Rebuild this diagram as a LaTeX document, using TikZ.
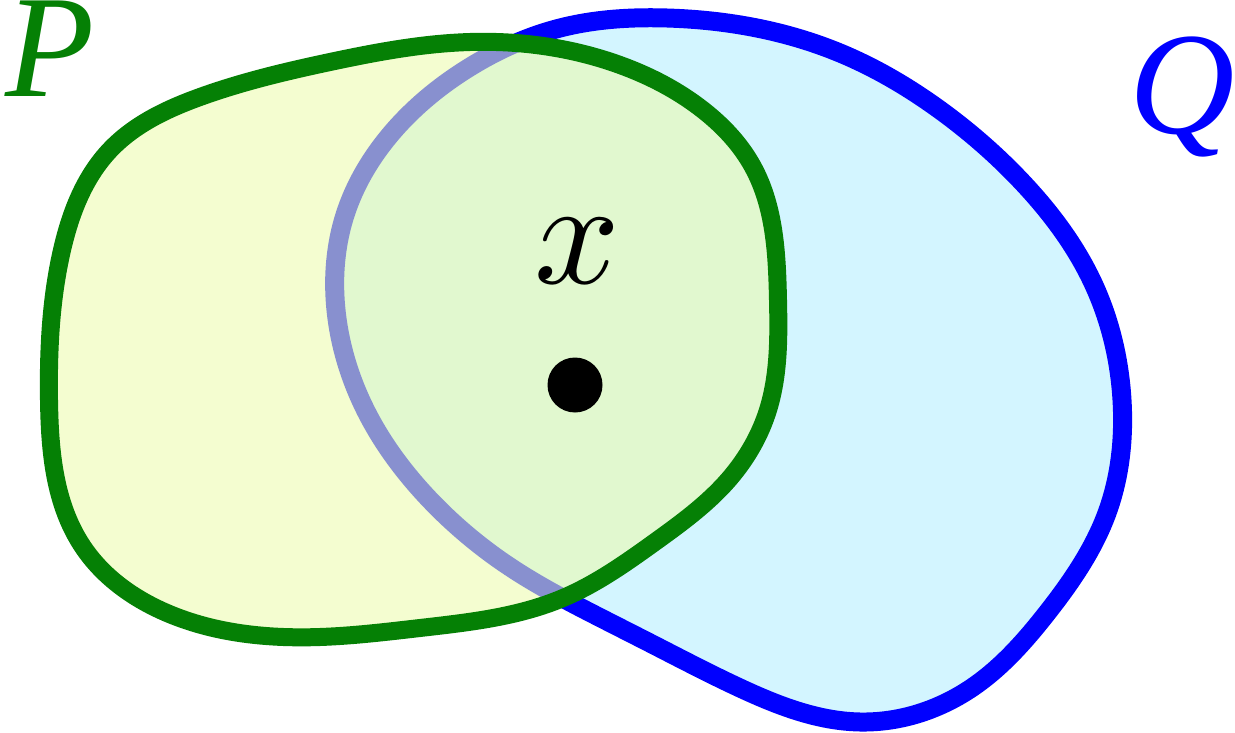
\documentclass[tikz,border=0pt]{standalone}
\usepackage{graphicx}
\usepackage{fontspec}
\newfontfamily\labfont{Liberation Serif}
\usetikzlibrary{hobby}
\definecolor{qfill}{RGB}{211,245,255}
\definecolor{qdraw}{RGB}{0,0,255}
\definecolor{pdraw}{RGB}{5,128,5}
\definecolor{pfill}{RGB}{236,251,173}
\tikzset{
  qset/.style={fill=qfill,draw=qdraw,line width=19pt,use Hobby shortcut,closed=true},
  pset/.style={fill=pfill,fill opacity=0.575,draw=pdraw,draw opacity=1,line width=18pt,use Hobby shortcut,closed=true},
  lab/.style={inner sep=0pt,font=\labfont\itshape\fontsize{146}{146}\selectfont}
}
\begin{document}
\begin{tikzpicture}[x=1pt,y=-1pt]
\useasboundingbox (0,0) rectangle (1235,733);
% Q
\draw[qset] (667,18) .. (840,53) .. (940,110) .. (1023,183) .. (1093,283) .. (1122,400) .. (1107,513)
 .. (1047,613) .. (973,687) .. (860,722) .. (740,688) .. (650,643) .. (595,615) .. (510,567)
 .. (430,500) .. (367,413) .. (336,310) .. (345,215) .. (390,135) .. (470,67) .. (560,28);
% P
\draw[pset] (49,400) .. (62,250) .. (110,150) .. (200,97) .. (330,62) .. (470,42) .. (620,65)
 .. (703,110) .. (753,167) .. (778,300) .. (768,410) .. (730,478) .. (655,542) .. (563,598)
 .. (420,628) .. (320,637) .. (167,613) .. (83,547);
\node[circle,fill=black,minimum size=55pt,inner sep=0pt] (dot) at (575,385) {};
\node[inner sep=0pt,anchor=base] (xl) at (577,283) {\scalebox{15}{$x$}};
\node[lab,anchor=base,text=pdraw] (pl) at (50,97) {P};
\node[lab,anchor=base,text=qdraw] (ql) at (1182,134) {Q};
\end{tikzpicture}
\end{document}
